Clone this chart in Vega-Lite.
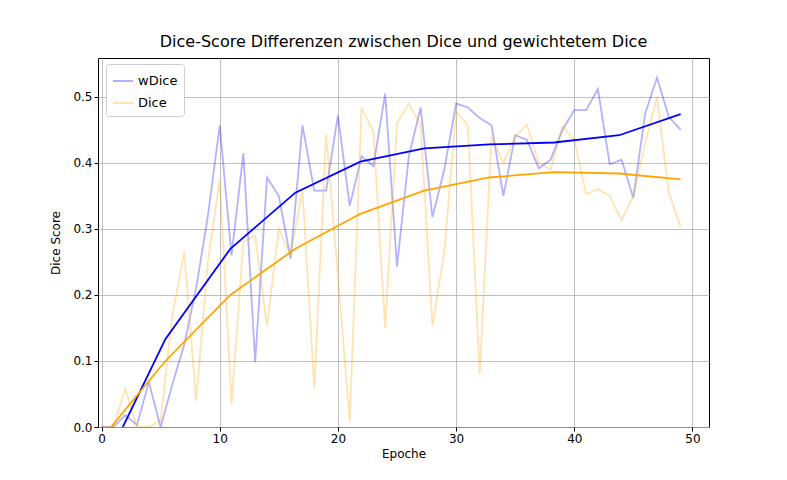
{
"$schema":"https://vega.github.io/schema/vega-lite/v6.json",
"width":611,"height":369,
"autosize":{"type":"none"},
"padding":{"left":98,"top":58,"right":78,"bottom":53},
"title":{"text":"Dice-Score Differenzen zwischen Dice und gewichtetem Dice","font":"DejaVu Sans","fontSize":16,"fontWeight":"normal","offset":8,"color":"#000"},
"config":{"view":{"stroke":"#000","strokeWidth":1},"axis":{"labelFont":"DejaVu Sans","titleFont":"DejaVu Sans","labelFontSize":12,"titleFontSize":12,"titleFontWeight":"normal","labelColor":"#000","titleColor":"#000","grid":true,"gridColor":"#b0b0b0","gridWidth":0.8,"domain":false,"tickColor":"#000","tickSize":4}},
"datasets":{
"raw":[
{"s":"wDice","e":0,"v":0},{"s":"wDice","e":1,"v":0},{"s":"wDice","e":2,"v":0.018},{"s":"wDice","e":3,"v":0.003},{"s":"wDice","e":4,"v":0.068},{"s":"wDice","e":5,"v":0.0},{"s":"wDice","e":6,"v":0.065},{"s":"wDice","e":7,"v":0.125},{"s":"wDice","e":8,"v":0.21},{"s":"wDice","e":9,"v":0.32},{"s":"wDice","e":10,"v":0.457},{"s":"wDice","e":11,"v":0.26},{"s":"wDice","e":12,"v":0.415},{"s":"wDice","e":13,"v":0.098},{"s":"wDice","e":14,"v":0.378},{"s":"wDice","e":15,"v":0.35},{"s":"wDice","e":16,"v":0.255},{"s":"wDice","e":17,"v":0.457},{"s":"wDice","e":18,"v":0.358},{"s":"wDice","e":19,"v":0.358},{"s":"wDice","e":20,"v":0.472},{"s":"wDice","e":21,"v":0.335},{"s":"wDice","e":22,"v":0.41},{"s":"wDice","e":23,"v":0.395},{"s":"wDice","e":24,"v":0.505},{"s":"wDice","e":25,"v":0.243},{"s":"wDice","e":26,"v":0.41},{"s":"wDice","e":27,"v":0.484},{"s":"wDice","e":28,"v":0.318},{"s":"wDice","e":29,"v":0.39},{"s":"wDice","e":30,"v":0.49},{"s":"wDice","e":31,"v":0.484},{"s":"wDice","e":32,"v":0.468},{"s":"wDice","e":33,"v":0.457},{"s":"wDice","e":34,"v":0.35},{"s":"wDice","e":35,"v":0.442},{"s":"wDice","e":36,"v":0.435},{"s":"wDice","e":37,"v":0.392},{"s":"wDice","e":38,"v":0.405},{"s":"wDice","e":39,"v":0.45},{"s":"wDice","e":40,"v":0.48},{"s":"wDice","e":41,"v":0.48},{"s":"wDice","e":42,"v":0.512},{"s":"wDice","e":43,"v":0.398},{"s":"wDice","e":44,"v":0.405},{"s":"wDice","e":45,"v":0.347},{"s":"wDice","e":46,"v":0.475},{"s":"wDice","e":47,"v":0.529},{"s":"wDice","e":48,"v":0.47},{"s":"wDice","e":49,"v":0.45},
{"s":"Dice","e":0,"v":0},{"s":"Dice","e":1,"v":0},{"s":"Dice","e":2,"v":0.058},{"s":"Dice","e":3,"v":0.0},{"s":"Dice","e":4,"v":0.0},{"s":"Dice","e":5,"v":0.01},{"s":"Dice","e":6,"v":0.17},{"s":"Dice","e":7,"v":0.265},{"s":"Dice","e":8,"v":0.04},{"s":"Dice","e":9,"v":0.25},{"s":"Dice","e":10,"v":0.375},{"s":"Dice","e":11,"v":0.035},{"s":"Dice","e":12,"v":0.28},{"s":"Dice","e":13,"v":0.29},{"s":"Dice","e":14,"v":0.153},{"s":"Dice","e":15,"v":0.3},{"s":"Dice","e":16,"v":0.26},{"s":"Dice","e":17,"v":0.36},{"s":"Dice","e":18,"v":0.058},{"s":"Dice","e":19,"v":0.445},{"s":"Dice","e":20,"v":0.23},{"s":"Dice","e":21,"v":0.008},{"s":"Dice","e":22,"v":0.483},{"s":"Dice","e":23,"v":0.448},{"s":"Dice","e":24,"v":0.15},{"s":"Dice","e":25,"v":0.46},{"s":"Dice","e":26,"v":0.49},{"s":"Dice","e":27,"v":0.457},{"s":"Dice","e":28,"v":0.153},{"s":"Dice","e":29,"v":0.265},{"s":"Dice","e":30,"v":0.478},{"s":"Dice","e":31,"v":0.457},{"s":"Dice","e":32,"v":0.08},{"s":"Dice","e":33,"v":0.44},{"s":"Dice","e":34,"v":0.4},{"s":"Dice","e":35,"v":0.44},{"s":"Dice","e":36,"v":0.458},{"s":"Dice","e":37,"v":0.4},{"s":"Dice","e":38,"v":0.39},{"s":"Dice","e":39,"v":0.456},{"s":"Dice","e":40,"v":0.435},{"s":"Dice","e":41,"v":0.353},{"s":"Dice","e":42,"v":0.36},{"s":"Dice","e":43,"v":0.35},{"s":"Dice","e":44,"v":0.313},{"s":"Dice","e":45,"v":0.35},{"s":"Dice","e":46,"v":0.43},{"s":"Dice","e":47,"v":0.5},{"s":"Dice","e":48,"v":0.355},{"s":"Dice","e":49,"v":0.303}],
"smooth":[
{"s":"wDice","e":1.8,"v":0},{"s":"wDice","e":5.4,"v":0.133},{"s":"wDice","e":10.9,"v":0.27},{"s":"wDice","e":16.4,"v":0.355},{"s":"wDice","e":21.9,"v":0.402},{"s":"wDice","e":27.3,"v":0.422},{"s":"wDice","e":32.8,"v":0.428},{"s":"wDice","e":38.3,"v":0.431},{"s":"wDice","e":43.8,"v":0.442},{"s":"wDice","e":49,"v":0.474},
{"s":"Dice","e":0.8,"v":0},{"s":"Dice","e":5.4,"v":0.1},{"s":"Dice","e":10.9,"v":0.2},{"s":"Dice","e":16.4,"v":0.27},{"s":"Dice","e":21.9,"v":0.323},{"s":"Dice","e":27.3,"v":0.358},{"s":"Dice","e":32.8,"v":0.378},{"s":"Dice","e":38.3,"v":0.386},{"s":"Dice","e":43.8,"v":0.384},{"s":"Dice","e":49,"v":0.375}]
},
"encoding":{
"x":{"field":"e","type":"quantitative","title":"Epoche","scale":{"domain":[-0.3,51.4],"nice":false,"zero":false},"axis":{"values":[0,10,20,30,40,50]}},
"y":{"field":"v","type":"quantitative","title":"Dice Score","scale":{"domain":[0,0.559],"nice":false},"axis":{"values":[0,0.1,0.2,0.3,0.4,0.5],"format":".1f","titlePadding":10}},
"color":{"field":"s","type":"nominal","scale":{"domain":["wDice","Dice"],"range":["#0000ff","#ffa500"]},"legend":{"title":null,"orient":"none","legendX":8,"legendY":6,"symbolType":"stroke","symbolStrokeWidth":2,"symbolSize":400,"labelFont":"DejaVu Sans","labelFontSize":13,"labelColor":"#000","fillColor":"#ffffff","strokeColor":"#cccccc","padding":6,"cornerRadius":3,"rowPadding":4}}
},
"layer":[
{"data":{"name":"raw"},"mark":{"type":"line","strokeWidth":1.8,"opacity":0.3,"clip":true}},
{"data":{"name":"smooth"},"mark":{"type":"line","strokeWidth":1.8,"clip":true}}
]
}
